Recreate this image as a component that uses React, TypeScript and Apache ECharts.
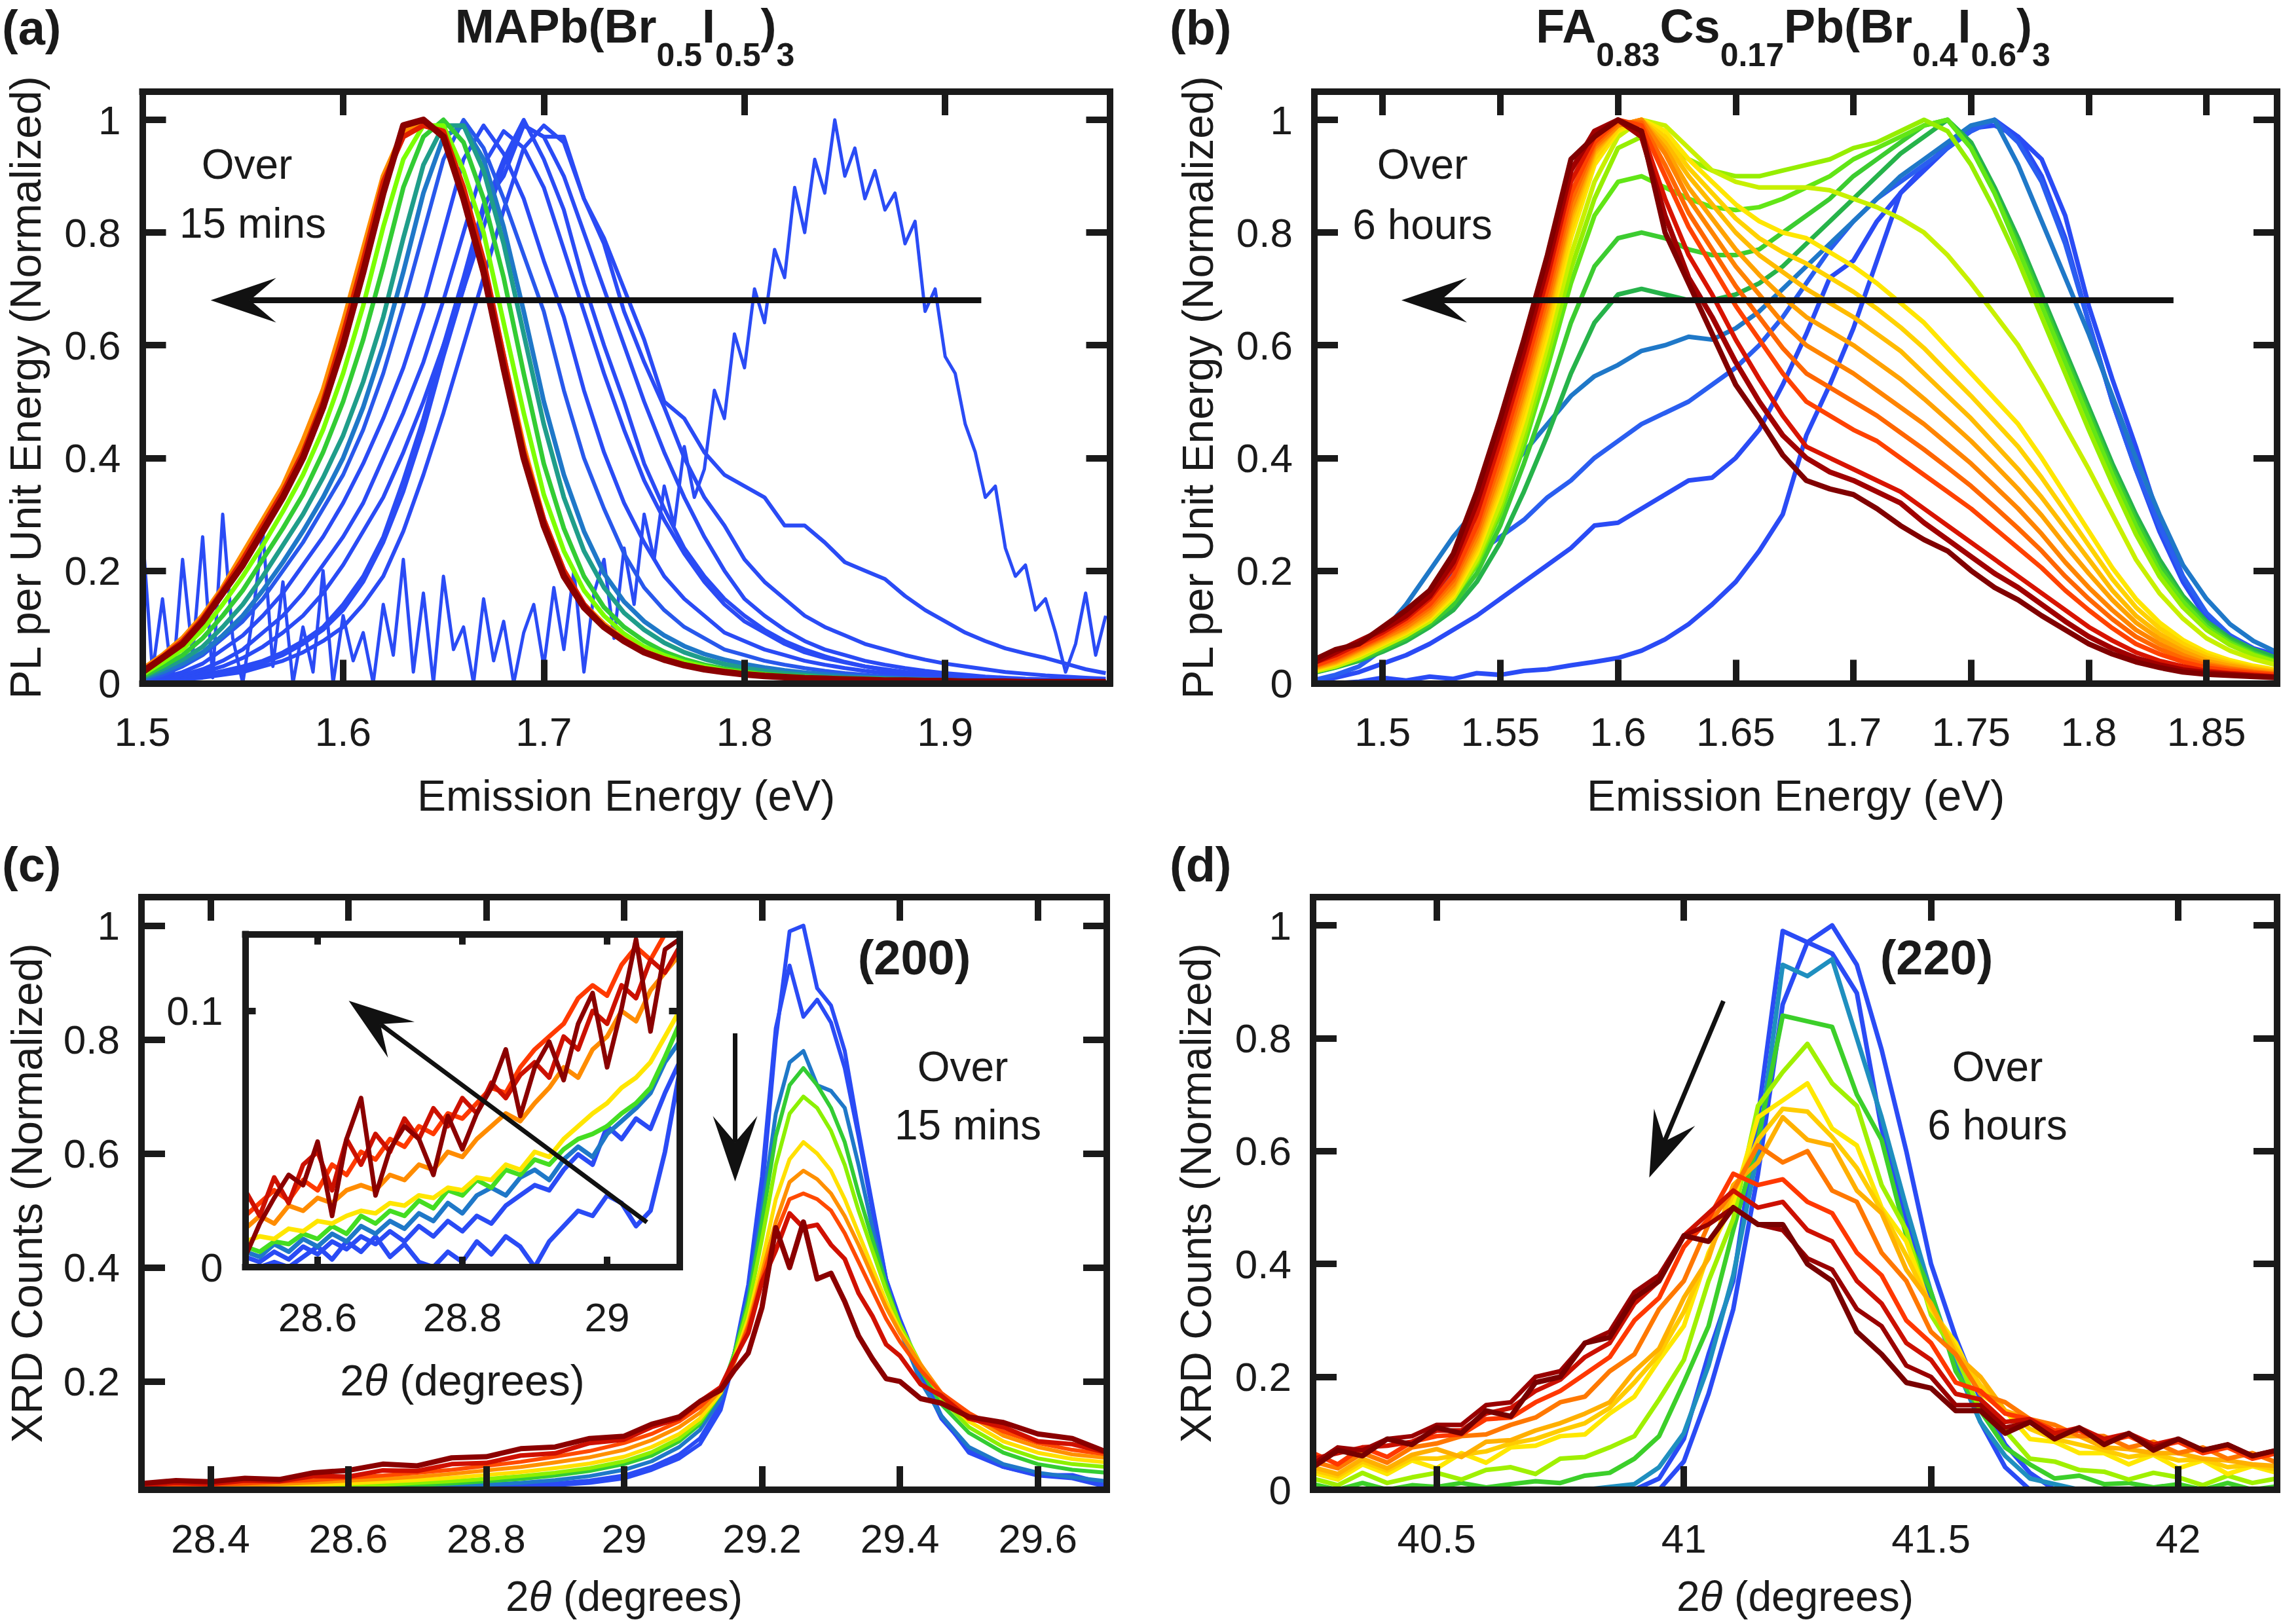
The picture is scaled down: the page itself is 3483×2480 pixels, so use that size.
import React, { useEffect, useRef } from "react";
import * as echarts from "echarts";

const FONT = "'Liberation Sans', Arial, Helvetica, sans-serif";
const INK = "#1a1a1a";

// ---------------- Panel (a): MAPb(Br0.5I0.5)3 PL ----------------
const xA = [1.50,1.51,1.52,1.53,1.54,1.55,1.56,1.57,1.58,1.59,1.60,1.61,1.62,1.63,1.64,1.65,1.66,1.67,1.68,1.69,1.70,1.71,1.72,1.73,1.74,1.75,1.76,1.77,1.78,1.79,1.80,1.81,1.82,1.83,1.84,1.85,1.86,1.87,1.88,1.89,1.90,1.91,1.92,1.93,1.94,1.95,1.96,1.97,1.98];
const xNoise = [1.500,1.505,1.510,1.515,1.520,1.525,1.530,1.535,1.540,1.545,1.550,1.555,1.560,1.565,1.570,1.575,1.580,1.585,1.590,1.595,1.600,1.605,1.610,1.615,1.620,1.625,1.630,1.635,1.640,1.645,1.650,1.655,1.660,1.665,1.670,1.675,1.680,1.685,1.690,1.695,1.700,1.705,1.710,1.715,1.720,1.725,1.730,1.735,1.740,1.745,1.750,1.755,1.760,1.765,1.770,1.775,1.780,1.785,1.790,1.795,1.800,1.805,1.810,1.815,1.820,1.825,1.830,1.835,1.840,1.845,1.850,1.855,1.860,1.865,1.870,1.875,1.880,1.885,1.890,1.895,1.900,1.905,1.910,1.915,1.920,1.925,1.930,1.935,1.940,1.945,1.950,1.955,1.960,1.965,1.970,1.975,1.980];
const aNoisy = [0.27,0.02,0.15,0.00,0.22,0.05,0.26,0.01,0.30,0.08,0.00,0.12,0.27,0.03,0.18,0.00,0.10,0.02,0.20,0.00,0.12,0.04,0.09,0.00,0.14,0.05,0.22,0.02,0.16,0.00,0.19,0.06,0.10,0.00,0.15,0.04,0.11,0.00,0.09,0.14,0.03,0.17,0.06,0.20,0.02,0.16,0.22,0.08,0.24,0.14,0.30,0.22,0.35,0.28,0.42,0.33,0.38,0.52,0.47,0.62,0.56,0.70,0.64,0.77,0.72,0.88,0.80,0.93,0.87,1.00,0.90,0.95,0.86,0.91,0.84,0.87,0.78,0.82,0.66,0.70,0.58,0.55,0.46,0.41,0.33,0.35,0.24,0.19,0.21,0.13,0.15,0.09,0.02,0.07,0.16,0.05,0.12];
const aB1 = [0.003,0.006,0.01,0.015,0.022,0.03,0.04,0.055,0.075,0.1,0.14,0.19,0.26,0.36,0.47,0.6,0.72,0.85,0.9,0.99,0.97,0.97,0.86,0.79,0.7,0.61,0.5,0.47,0.41,0.37,0.35,0.33,0.28,0.28,0.25,0.215,0.2,0.185,0.155,0.13,0.11,0.09,0.075,0.062,0.053,0.045,0.035,0.025,0.018];
const aB3 = [0.002,0.004,0.007,0.01,0.015,0.02,0.03,0.04,0.055,0.075,0.1,0.14,0.19,0.27,0.37,0.48,0.6,0.72,0.84,0.95,0.99,0.96,0.86,0.78,0.66,0.57,0.49,0.4,0.33,0.28,0.22,0.18,0.15,0.12,0.1,0.085,0.07,0.06,0.05,0.042,0.035,0.03,0.025,0.02,0.017,0.014,0.012,0.01,0.008];
const aB2 = [0.002,0.004,0.008,0.012,0.018,0.026,0.036,0.05,0.07,0.095,0.13,0.18,0.25,0.34,0.45,0.58,0.7,0.84,0.93,1.0,0.93,0.84,0.71,0.6,0.5,0.39,0.31,0.24,0.19,0.15,0.12,0.095,0.075,0.06,0.048,0.038,0.03,0.025,0.02,0.016,0.013,0.011,0.009,0.008,0.006,0.005,0.004,0.004,0.003];
const aB4 = [0.003,0.006,0.012,0.02,0.03,0.045,0.065,0.09,0.12,0.16,0.21,0.27,0.33,0.41,0.5,0.6,0.7,0.81,0.92,0.99,0.97,0.9,0.8,0.7,0.6,0.5,0.41,0.33,0.26,0.2,0.15,0.12,0.095,0.075,0.06,0.05,0.04,0.033,0.027,0.022,0.018,0.015,0.012,0.01,0.008,0.007,0.006,0.005,0.004];
const aB5 = [0.003,0.008,0.015,0.025,0.04,0.06,0.09,0.12,0.16,0.21,0.26,0.32,0.4,0.48,0.57,0.68,0.8,0.92,0.98,0.95,0.88,0.77,0.66,0.55,0.45,0.36,0.29,0.23,0.18,0.14,0.11,0.09,0.07,0.055,0.045,0.037,0.03,0.024,0.02,0.016,0.013,0.011,0.009,0.008,0.006,0.005,0.005,0.004,0.003];
const aB6 = [0.004,0.01,0.02,0.035,0.06,0.085,0.12,0.16,0.21,0.26,0.32,0.39,0.47,0.56,0.67,0.8,0.93,0.99,0.94,0.86,0.75,0.65,0.52,0.41,0.32,0.25,0.19,0.15,0.12,0.09,0.075,0.06,0.05,0.04,0.033,0.027,0.022,0.018,0.015,0.012,0.01,0.008,0.007,0.006,0.005,0.004,0.004,0.003,0.003];
const aB7 = [0.005,0.015,0.03,0.05,0.08,0.11,0.15,0.2,0.25,0.31,0.37,0.45,0.55,0.67,0.8,0.93,1.0,0.95,0.86,0.76,0.66,0.52,0.4,0.31,0.23,0.17,0.13,0.1,0.08,0.06,0.05,0.04,0.033,0.027,0.022,0.018,0.015,0.012,0.01,0.008,0.007,0.006,0.005,0.004,0.004,0.003,0.003,0.002,0.002];
const aSB = [0.008,0.02,0.035,0.055,0.085,0.12,0.165,0.215,0.27,0.33,0.4,0.49,0.6,0.73,0.87,0.97,0.99,0.93,0.81,0.66,0.5,0.37,0.27,0.195,0.145,0.11,0.085,0.066,0.052,0.042,0.034,0.028,0.023,0.019,0.016,0.013,0.011,0.009,0.008,0.007,0.006,0.005,0.004,0.004,0.003,0.003,0.003,0.002,0.002];
const aT = [0.01,0.025,0.042,0.065,0.1,0.14,0.19,0.245,0.3,0.365,0.44,0.535,0.65,0.79,0.92,0.99,0.99,0.91,0.78,0.62,0.46,0.33,0.235,0.17,0.125,0.095,0.072,0.055,0.043,0.034,0.027,0.022,0.018,0.015,0.012,0.01,0.009,0.008,0.007,0.006,0.005,0.004,0.004,0.003,0.003,0.003,0.002,0.002,0.002];
const aG = [0.012,0.03,0.05,0.08,0.12,0.165,0.22,0.275,0.335,0.41,0.5,0.61,0.74,0.88,0.97,1.0,0.96,0.86,0.72,0.55,0.39,0.275,0.19,0.135,0.1,0.075,0.056,0.043,0.033,0.026,0.021,0.017,0.014,0.012,0.01,0.009,0.008,0.007,0.006,0.005,0.005,0.004,0.004,0.003,0.003,0.003,0.003,0.002,0.002];
const aL = [0.015,0.037,0.06,0.095,0.14,0.19,0.245,0.305,0.37,0.45,0.55,0.67,0.81,0.93,0.99,0.99,0.91,0.8,0.64,0.48,0.335,0.235,0.165,0.12,0.088,0.065,0.05,0.038,0.03,0.023,0.019,0.015,0.012,0.01,0.009,0.008,0.007,0.006,0.005,0.005,0.004,0.004,0.003,0.003,0.003,0.002,0.002,0.002,0.002];
const aO = [0.025,0.05,0.08,0.12,0.17,0.23,0.29,0.35,0.43,0.52,0.64,0.77,0.9,0.98,1.0,0.97,0.87,0.74,0.58,0.42,0.29,0.2,0.14,0.105,0.078,0.057,0.044,0.033,0.026,0.021,0.017,0.014,0.011,0.009,0.008,0.007,0.006,0.005,0.005,0.004,0.004,0.003,0.003,0.003,0.002,0.002,0.002,0.002,0.002];
const aR = [0.022,0.047,0.075,0.115,0.165,0.22,0.28,0.34,0.41,0.5,0.62,0.75,0.89,0.97,0.99,0.98,0.88,0.75,0.58,0.41,0.29,0.2,0.14,0.1,0.077,0.056,0.043,0.033,0.025,0.02,0.016,0.013,0.011,0.009,0.008,0.007,0.006,0.005,0.005,0.004,0.004,0.003,0.003,0.003,0.002,0.002,0.002,0.002,0.002];
const aD = [0.02,0.045,0.07,0.11,0.16,0.21,0.27,0.33,0.4,0.49,0.6,0.73,0.87,0.99,1.0,0.97,0.86,0.73,0.56,0.4,0.28,0.19,0.135,0.1,0.075,0.055,0.042,0.032,0.025,0.02,0.016,0.013,0.011,0.009,0.008,0.007,0.006,0.005,0.005,0.004,0.004,0.003,0.003,0.003,0.002,0.002,0.002,0.002,0.002];

// ---------------- Panel (b): FA0.83Cs0.17Pb(Br0.4I0.6)3 PL ----------------
const xB = [1.47,1.48,1.49,1.50,1.51,1.52,1.53,1.54,1.55,1.56,1.57,1.58,1.59,1.60,1.61,1.62,1.63,1.64,1.65,1.66,1.67,1.68,1.69,1.70,1.71,1.72,1.73,1.74,1.75,1.76,1.77,1.78,1.79,1.80,1.81,1.82,1.83,1.84,1.85,1.86,1.87,1.88];
const bB0 = [0,0,0.003,0.01,0.005,0.012,0.008,0.018,0.015,0.022,0.025,0.032,0.038,0.045,0.058,0.078,0.105,0.14,0.18,0.235,0.3,0.44,0.53,0.63,0.75,0.87,0.915,0.955,0.985,0.99,0.97,0.93,0.83,0.67,0.54,0.42,0.29,0.19,0.12,0.085,0.062,0.05];
const bB1 = [0,0.01,0.02,0.035,0.05,0.07,0.095,0.12,0.15,0.18,0.21,0.24,0.28,0.285,0.31,0.335,0.36,0.365,0.4,0.45,0.53,0.62,0.72,0.75,0.82,0.87,0.91,0.95,0.98,1.0,0.97,0.9,0.79,0.64,0.5,0.38,0.27,0.18,0.115,0.08,0.06,0.045];
const bB2 = [0.005,0.015,0.03,0.06,0.1,0.15,0.2,0.23,0.26,0.29,0.33,0.36,0.4,0.43,0.46,0.48,0.5,0.53,0.56,0.6,0.65,0.71,0.77,0.82,0.86,0.89,0.92,0.95,0.98,1.0,0.96,0.89,0.78,0.64,0.5,0.38,0.28,0.19,0.125,0.085,0.06,0.045];
const bB3 = [0.02,0.035,0.06,0.09,0.14,0.2,0.26,0.31,0.36,0.41,0.46,0.51,0.545,0.565,0.59,0.6,0.615,0.61,0.63,0.66,0.7,0.74,0.78,0.82,0.86,0.9,0.93,0.96,0.99,1.0,0.92,0.82,0.72,0.62,0.51,0.4,0.3,0.21,0.15,0.105,0.075,0.055];
const bG1 = [0.018,0.028,0.04,0.056,0.075,0.1,0.13,0.18,0.25,0.34,0.44,0.55,0.64,0.69,0.7,0.69,0.68,0.68,0.69,0.71,0.74,0.78,0.82,0.86,0.9,0.94,0.97,1.0,0.96,0.88,0.79,0.69,0.59,0.49,0.39,0.3,0.22,0.155,0.11,0.08,0.06,0.045];
const bG2 = [0.02,0.03,0.042,0.06,0.08,0.105,0.14,0.195,0.28,0.39,0.51,0.64,0.74,0.79,0.8,0.79,0.77,0.76,0.76,0.77,0.8,0.83,0.86,0.9,0.93,0.96,0.99,1.0,0.95,0.87,0.78,0.68,0.58,0.48,0.38,0.29,0.21,0.15,0.105,0.075,0.055,0.04];
const bG3 = [0.02,0.03,0.045,0.065,0.085,0.11,0.15,0.21,0.3,0.42,0.56,0.71,0.83,0.89,0.9,0.88,0.86,0.845,0.84,0.845,0.86,0.88,0.9,0.93,0.95,0.97,0.99,1.0,0.95,0.87,0.77,0.67,0.57,0.47,0.37,0.28,0.2,0.145,0.1,0.072,0.052,0.038];
const bGY = [0.02,0.03,0.045,0.065,0.085,0.11,0.15,0.215,0.31,0.435,0.58,0.735,0.86,0.95,0.97,0.96,0.93,0.91,0.9,0.9,0.91,0.92,0.93,0.95,0.96,0.98,1.0,0.98,0.92,0.84,0.75,0.65,0.55,0.45,0.355,0.265,0.19,0.135,0.095,0.068,0.05,0.037];
const bYG = [0.02,0.03,0.045,0.065,0.085,0.11,0.15,0.22,0.32,0.45,0.6,0.76,0.89,0.97,1.0,0.99,0.95,0.91,0.89,0.88,0.88,0.88,0.875,0.86,0.845,0.825,0.8,0.76,0.71,0.655,0.6,0.53,0.455,0.38,0.3,0.22,0.16,0.115,0.08,0.058,0.043,0.032];
const bY = [0.022,0.034,0.05,0.07,0.09,0.115,0.155,0.23,0.34,0.47,0.62,0.79,0.92,0.98,1.0,0.98,0.93,0.89,0.85,0.82,0.8,0.79,0.765,0.74,0.71,0.675,0.64,0.595,0.55,0.505,0.46,0.4,0.335,0.27,0.205,0.15,0.108,0.077,0.055,0.041,0.031,0.024];
const bYY = [0.024,0.035,0.052,0.072,0.092,0.118,0.16,0.238,0.35,0.485,0.635,0.805,0.93,0.985,1.0,0.97,0.915,0.87,0.825,0.79,0.765,0.745,0.72,0.695,0.665,0.632,0.595,0.552,0.51,0.465,0.42,0.365,0.305,0.245,0.185,0.135,0.098,0.07,0.05,0.037,0.028,0.022];
const bYO = [0.025,0.037,0.055,0.075,0.095,0.12,0.165,0.245,0.36,0.5,0.65,0.82,0.94,0.99,1.0,0.96,0.9,0.85,0.8,0.76,0.73,0.7,0.675,0.65,0.62,0.59,0.55,0.51,0.47,0.425,0.38,0.33,0.275,0.22,0.165,0.12,0.088,0.063,0.045,0.034,0.026,0.02];
const bOY = [0.026,0.038,0.058,0.078,0.098,0.125,0.17,0.252,0.37,0.51,0.66,0.83,0.945,0.99,1.0,0.95,0.88,0.825,0.77,0.725,0.685,0.65,0.625,0.6,0.57,0.54,0.505,0.468,0.43,0.388,0.345,0.298,0.245,0.195,0.148,0.108,0.079,0.057,0.04,0.031,0.024,0.019];
const bO = [0.028,0.04,0.06,0.08,0.1,0.13,0.175,0.26,0.38,0.52,0.67,0.84,0.95,0.99,1.0,0.94,0.86,0.8,0.74,0.69,0.64,0.6,0.575,0.55,0.52,0.49,0.46,0.425,0.39,0.35,0.31,0.265,0.215,0.17,0.13,0.095,0.07,0.05,0.035,0.027,0.021,0.017];
const bOR = [0.029,0.043,0.062,0.083,0.105,0.135,0.183,0.27,0.395,0.535,0.685,0.855,0.955,0.995,0.995,0.92,0.835,0.77,0.705,0.65,0.595,0.55,0.525,0.5,0.475,0.445,0.415,0.383,0.35,0.313,0.275,0.235,0.19,0.15,0.114,0.083,0.061,0.044,0.032,0.025,0.02,0.016];
const bRO = [0.03,0.045,0.065,0.085,0.11,0.14,0.19,0.28,0.41,0.55,0.7,0.87,0.96,1.0,0.99,0.9,0.81,0.74,0.67,0.61,0.55,0.5,0.475,0.45,0.43,0.4,0.37,0.34,0.31,0.275,0.24,0.205,0.165,0.13,0.098,0.07,0.052,0.038,0.028,0.022,0.018,0.015];
const bR = [0.035,0.05,0.07,0.09,0.115,0.15,0.205,0.3,0.43,0.57,0.72,0.89,0.97,1.0,0.98,0.86,0.76,0.69,0.61,0.54,0.475,0.42,0.4,0.38,0.36,0.34,0.31,0.28,0.25,0.22,0.19,0.16,0.13,0.1,0.076,0.055,0.04,0.03,0.022,0.018,0.015,0.012];
const bDR1 = [0.035,0.055,0.075,0.095,0.12,0.155,0.215,0.32,0.45,0.59,0.74,0.91,0.98,1.0,0.97,0.83,0.72,0.65,0.57,0.5,0.44,0.4,0.375,0.36,0.34,0.32,0.285,0.255,0.225,0.195,0.17,0.14,0.11,0.083,0.062,0.045,0.033,0.024,0.019,0.016,0.013,0.011];
const bDR2 = [0.04,0.06,0.07,0.1,0.13,0.165,0.23,0.34,0.47,0.61,0.76,0.93,0.97,1.0,0.98,0.8,0.71,0.62,0.53,0.47,0.405,0.36,0.345,0.335,0.31,0.28,0.255,0.235,0.2,0.17,0.148,0.12,0.095,0.07,0.052,0.038,0.028,0.02,0.016,0.014,0.012,0.01];

// ---------------- Panel (c): (200) XRD ----------------
const xC = [28.30,28.35,28.40,28.45,28.50,28.55,28.60,28.65,28.70,28.75,28.80,28.85,28.90,28.95,29.00,29.04,29.08,29.11,29.14,29.16,29.18,29.20,29.22,29.24,29.26,29.28,29.30,29.32,29.34,29.36,29.38,29.40,29.43,29.46,29.50,29.55,29.60,29.65,29.70];
const cBlueA = [0.004,0.004,0.005,0.005,0.006,0.006,0.007,0.007,0.008,0.01,0.012,0.014,0.018,0.022,0.03,0.045,0.065,0.09,0.15,0.24,0.35,0.53,0.8,0.99,1.0,0.89,0.86,0.78,0.64,0.51,0.38,0.31,0.22,0.14,0.075,0.05,0.036,0.036,0.02];
const cBlueB = [0.005,0.005,0.006,0.006,0.007,0.007,0.008,0.009,0.01,0.012,0.014,0.017,0.021,0.026,0.035,0.05,0.072,0.1,0.16,0.25,0.37,0.56,0.82,0.93,0.84,0.87,0.83,0.75,0.63,0.5,0.38,0.3,0.21,0.135,0.08,0.05,0.035,0.03,0.015];
const cSteel = [0.006,0.006,0.007,0.008,0.009,0.01,0.011,0.012,0.014,0.016,0.019,0.022,0.027,0.034,0.045,0.06,0.085,0.115,0.17,0.25,0.35,0.5,0.67,0.76,0.78,0.72,0.71,0.68,0.58,0.47,0.37,0.29,0.2,0.14,0.085,0.055,0.04,0.032,0.025];
const cGreen = [0.008,0.008,0.009,0.01,0.011,0.012,0.014,0.016,0.018,0.021,0.025,0.029,0.035,0.043,0.055,0.07,0.095,0.125,0.18,0.25,0.34,0.48,0.63,0.72,0.75,0.72,0.68,0.62,0.53,0.45,0.37,0.3,0.22,0.16,0.11,0.075,0.055,0.045,0.04];
const cLime = [0.01,0.01,0.011,0.012,0.013,0.015,0.017,0.019,0.022,0.025,0.029,0.034,0.04,0.048,0.06,0.076,0.1,0.13,0.18,0.245,0.33,0.45,0.58,0.67,0.7,0.68,0.64,0.58,0.5,0.43,0.36,0.3,0.23,0.17,0.12,0.085,0.065,0.055,0.05];
const cYellow = [0.012,0.013,0.014,0.015,0.017,0.019,0.021,0.024,0.027,0.031,0.036,0.041,0.048,0.056,0.068,0.085,0.108,0.135,0.18,0.24,0.31,0.41,0.52,0.59,0.62,0.6,0.57,0.52,0.46,0.4,0.34,0.29,0.23,0.175,0.13,0.095,0.075,0.064,0.058];
const cOrange = [0.014,0.015,0.017,0.018,0.02,0.023,0.026,0.029,0.033,0.038,0.044,0.05,0.058,0.067,0.08,0.097,0.12,0.145,0.185,0.235,0.3,0.39,0.48,0.55,0.57,0.555,0.53,0.49,0.44,0.385,0.33,0.285,0.23,0.18,0.14,0.105,0.085,0.072,0.066];
const cRedOr = [0.016,0.017,0.019,0.021,0.024,0.027,0.031,0.035,0.04,0.045,0.052,0.059,0.068,0.078,0.092,0.108,0.13,0.155,0.19,0.235,0.295,0.38,0.46,0.52,0.53,0.52,0.5,0.46,0.41,0.36,0.31,0.27,0.22,0.18,0.145,0.112,0.092,0.08,0.072];
const cRed = [0.018,0.022,0.02,0.026,0.025,0.034,0.033,0.044,0.043,0.055,0.057,0.07,0.074,0.092,0.098,0.12,0.135,0.165,0.19,0.24,0.285,0.375,0.43,0.495,0.47,0.475,0.44,0.415,0.355,0.315,0.265,0.245,0.195,0.175,0.135,0.12,0.095,0.09,0.075];
const cDark = [0.021,0.026,0.024,0.03,0.028,0.04,0.044,0.055,0.052,0.066,0.068,0.082,0.085,0.1,0.104,0.125,0.138,0.165,0.185,0.22,0.25,0.33,0.47,0.4,0.48,0.38,0.39,0.34,0.28,0.24,0.205,0.2,0.17,0.162,0.138,0.128,0.108,0.1,0.076];

// ---------------- Inset of (c): low-angle shoulder ----------------
const xI = [28.50,28.52,28.54,28.56,28.58,28.60,28.62,28.64,28.66,28.68,28.70,28.72,28.74,28.76,28.78,28.80,28.82,28.84,28.86,28.88,28.90,28.92,28.94,28.96,28.98,29.00,29.02,29.04,29.06,29.08,29.10];
const iBlue2 = [0,0,0.002,0,0.004,0.008,0.003,0.01,0.006,0.012,0.004,0.009,0.002,0,0.006,0.002,0.01,0.005,0.012,0.008,0,0.01,0.016,0.022,0.02,0.028,0.025,0.016,0.022,0.045,0.076];
const iBlue1 = [0.004,0.002,0.006,0.003,0.008,0.005,0.01,0.007,0.012,0.009,0.014,0.01,0.016,0.012,0.018,0.014,0.02,0.017,0.024,0.028,0.032,0.03,0.038,0.044,0.04,0.055,0.05,0.058,0.054,0.068,0.08];
const iSteel = [0.006,0.004,0.009,0.006,0.011,0.008,0.013,0.01,0.016,0.013,0.018,0.015,0.021,0.018,0.025,0.021,0.028,0.031,0.028,0.035,0.038,0.034,0.042,0.047,0.043,0.052,0.057,0.062,0.068,0.08,0.088];
const iGreen = [0.008,0.006,0.01,0.009,0.013,0.011,0.016,0.013,0.02,0.017,0.022,0.02,0.026,0.023,0.03,0.028,0.034,0.031,0.038,0.036,0.042,0.04,0.046,0.05,0.052,0.055,0.06,0.064,0.07,0.082,0.095];
const iYellow = [0.01,0.012,0.011,0.015,0.014,0.018,0.017,0.02,0.022,0.021,0.025,0.024,0.028,0.027,0.031,0.03,0.035,0.034,0.04,0.038,0.045,0.043,0.05,0.055,0.06,0.064,0.07,0.074,0.08,0.09,0.1];
const iOrange = [0.015,0.02,0.017,0.024,0.022,0.027,0.025,0.03,0.032,0.03,0.036,0.034,0.04,0.038,0.045,0.043,0.05,0.055,0.06,0.057,0.064,0.07,0.078,0.074,0.085,0.09,0.1,0.096,0.108,0.115,0.122];
const iRedOr = [0.02,0.025,0.03,0.026,0.034,0.03,0.04,0.036,0.045,0.042,0.05,0.047,0.055,0.052,0.06,0.058,0.064,0.07,0.068,0.078,0.085,0.09,0.095,0.105,0.11,0.106,0.118,0.125,0.12,0.13,0.13];
const iRed = [0.03,0.02,0.035,0.025,0.04,0.045,0.03,0.05,0.04,0.052,0.045,0.058,0.05,0.062,0.055,0.066,0.06,0.072,0.066,0.075,0.08,0.074,0.09,0.085,0.1,0.095,0.11,0.105,0.12,0.115,0.125];
const iDark = [0.004,0.017,0.027,0.036,0.032,0.049,0.02,0.05,0.066,0.028,0.046,0.055,0.05,0.036,0.059,0.046,0.06,0.07,0.085,0.059,0.078,0.088,0.073,0.095,0.107,0.078,0.101,0.128,0.092,0.124,0.128];

// ---------------- Panel (d): (220) XRD ----------------
const xD = [40.25,40.30,40.35,40.40,40.45,40.50,40.55,40.60,40.65,40.70,40.75,40.80,40.85,40.90,40.95,41.00,41.05,41.10,41.15,41.20,41.25,41.30,41.35,41.40,41.45,41.50,41.55,41.60,41.65,41.70,41.75,41.80,41.85,41.90,41.95,42.00,42.05,42.10,42.15,42.20];
const dBlueA = [0,0,0,0,0,0,0,0,0,0,0,0,0,0,0.02,0.09,0.24,0.37,0.66,0.99,0.97,0.95,0.88,0.64,0.48,0.33,0.22,0.12,0.04,0,0,0,0,0,0,0,0,0,0,0];
const dBlueB = [0,0,0,0,0,0,0,0,0,0,0,0,0,0,0,0.05,0.17,0.32,0.56,0.86,0.97,1.0,0.93,0.78,0.6,0.4,0.27,0.16,0.08,0.03,0,0,0,0,0,0,0,0,0,0];
const dTeal = [0,0,0,0,0,0,0,0,0,0,0,0,0.005,0.01,0.04,0.1,0.22,0.38,0.6,0.93,0.91,0.94,0.8,0.66,0.5,0.35,0.22,0.12,0.06,0.02,0.01,0,0,0,0,0,0,0,0,0];
const dGreen = [0.01,0,0.012,0,0.008,0.005,0.012,0.004,0.01,0.015,0.012,0.025,0.03,0.055,0.095,0.19,0.29,0.46,0.62,0.84,0.83,0.82,0.7,0.62,0.45,0.35,0.21,0.14,0.075,0.045,0.02,0.025,0.01,0.012,0.004,0.01,0,0.012,0,0.006];
const dLime = [0.02,0.008,0.03,0.012,0.022,0.03,0.018,0.035,0.04,0.028,0.055,0.058,0.075,0.095,0.16,0.23,0.37,0.48,0.68,0.74,0.79,0.72,0.68,0.54,0.46,0.31,0.24,0.14,0.105,0.055,0.05,0.035,0.032,0.018,0.03,0.022,0.008,0.025,0.012,0.02];
const dYellow = [0.03,0.018,0.045,0.028,0.052,0.038,0.065,0.048,0.075,0.078,0.095,0.098,0.135,0.165,0.23,0.29,0.42,0.51,0.66,0.69,0.72,0.64,0.61,0.5,0.44,0.32,0.26,0.17,0.14,0.09,0.085,0.065,0.065,0.045,0.062,0.038,0.052,0.028,0.042,0.03];
const dYelMid = [0.035,0.024,0.05,0.034,0.056,0.055,0.062,0.068,0.082,0.09,0.105,0.118,0.145,0.19,0.24,0.315,0.415,0.525,0.62,0.675,0.67,0.625,0.57,0.495,0.415,0.325,0.25,0.185,0.14,0.108,0.09,0.08,0.07,0.058,0.064,0.052,0.054,0.04,0.044,0.036];
const dYelOr = [0.04,0.028,0.055,0.038,0.062,0.072,0.058,0.085,0.088,0.105,0.118,0.135,0.155,0.21,0.25,0.34,0.41,0.54,0.58,0.66,0.62,0.61,0.53,0.49,0.39,0.33,0.24,0.2,0.14,0.125,0.095,0.095,0.075,0.072,0.065,0.065,0.055,0.052,0.045,0.042];
const dOrange = [0.05,0.038,0.065,0.048,0.075,0.082,0.095,0.098,0.115,0.128,0.155,0.165,0.21,0.24,0.32,0.37,0.47,0.53,0.61,0.58,0.6,0.53,0.51,0.42,0.37,0.28,0.24,0.17,0.155,0.125,0.115,0.095,0.095,0.075,0.085,0.065,0.075,0.055,0.065,0.048];
const dRedOr = [0.065,0.045,0.075,0.058,0.085,0.095,0.098,0.125,0.128,0.155,0.175,0.205,0.235,0.3,0.34,0.43,0.48,0.56,0.54,0.55,0.51,0.49,0.42,0.38,0.3,0.26,0.19,0.175,0.135,0.125,0.105,0.105,0.085,0.095,0.075,0.085,0.065,0.075,0.055,0.065];
const dRed = [0.055,0.065,0.075,0.078,0.085,0.105,0.105,0.135,0.145,0.175,0.195,0.235,0.26,0.33,0.37,0.45,0.49,0.53,0.5,0.51,0.46,0.44,0.37,0.33,0.26,0.23,0.17,0.16,0.12,0.125,0.1,0.11,0.09,0.1,0.08,0.09,0.07,0.08,0.06,0.07];
const dDark1 = [0.045,0.075,0.07,0.09,0.095,0.115,0.115,0.15,0.155,0.2,0.21,0.26,0.28,0.35,0.38,0.45,0.47,0.5,0.47,0.46,0.41,0.39,0.32,0.29,0.22,0.2,0.15,0.15,0.11,0.12,0.09,0.11,0.08,0.1,0.075,0.09,0.07,0.08,0.06,0.07];
const dDark2 = [0.04,0.07,0.06,0.09,0.08,0.11,0.1,0.14,0.13,0.19,0.2,0.26,0.27,0.34,0.37,0.45,0.44,0.5,0.47,0.47,0.4,0.37,0.28,0.24,0.19,0.18,0.14,0.14,0.1,0.12,0.09,0.11,0.08,0.1,0.07,0.09,0.07,0.08,0.06,0.07];

// ---------------- Tick values ----------------
const ticksAx = [1.5, 1.6, 1.7, 1.8, 1.9];
const ticksBx = [1.5, 1.55, 1.6, 1.65, 1.7, 1.75, 1.8, 1.85];
const ticksCx = [28.4, 28.6, 28.8, 29, 29.2, 29.4, 29.6];
const ticksDx = [40.5, 41, 41.5, 42];
const ticksIx = [28.6, 28.8, 29];
const ticksY = [0, 0.2, 0.4, 0.6, 0.8, 1];
const ticksCy = [0.2, 0.4, 0.6, 0.8, 1];
const ticksIy = [0, 0.1];

// Arrow annotations in data coordinates: [panelIndex, tailX, tailY, tipX, tipY]
const arrowsData = [
  [0, 1.918, 0.68, 1.534, 0.68],
  [1, 1.836, 0.68, 1.508, 0.68],
  [2, 29.161, 0.811, 29.161, 0.551],
  [3, 41.08, 0.866, 40.93, 0.553],
  [4, 29.055, 0.0175, 28.643, 0.104],
];

// ---------------- Colours ----------------
const BLUE = "#2a4bf5";
const STEEL = "#1f78c8";

const PANELS = [
  { grid: { left: 217.5, top: 140, width: 1477, height: 903.5 }, x: [1.5, 1.982], y: [0, 1.05], xt: ticksAx, yt: ticksY, tl: 36, xm: 43, ym: 33 },
  { grid: { left: 2007, top: 140, width: 1470, height: 903.5 }, x: [1.471, 1.88], y: [0, 1.05], xt: ticksBx, yt: ticksY, tl: 36, xm: 43, ym: 33 },
  { grid: { left: 216, top: 1370, width: 1474, height: 905 }, x: [28.3, 29.7], y: [0.01, 1.05], xt: ticksCx, yt: ticksCy, tl: 36, xm: 43, ym: 33 },
  { grid: { left: 2005, top: 1370, width: 1472, height: 905 }, x: [40.25, 42.2], y: [0, 1.05], xt: ticksDx, yt: ticksY, tl: 36, xm: 43, ym: 33 },
  { grid: { left: 374.5, top: 1426.5, width: 663, height: 508.5 }, x: [28.5, 29.1], y: [0, 0.13], xt: ticksIx, yt: ticksIy, tl: 16, xm: 45, ym: 34 },
];

const SERIES_SPEC: any[] = [
  // panel a
  [0, xNoise, aNoisy, BLUE, 5],
  [0, xA, aB1, BLUE, 6], [0, xA, aB3, BLUE, 6], [0, xA, aB2, BLUE, 6], [0, xA, aB4, BLUE, 6],
  [0, xA, aB5, BLUE, 6], [0, xA, aB6, BLUE, 6], [0, xA, aB7, "#2858ec", 6],
  [0, xA, aSB, STEEL, 7], [0, xA, aT, "#1f9d8a", 7], [0, xA, aG, "#33cc33", 7], [0, xA, aL, "#7cff00", 7],
  [0, xA, aO, "#ff8c00", 8], [0, xA, aR, "#e02000", 8], [0, xA, aD, "#8b0000", 10],
  // panel b
  [1, xB, bB0, BLUE, 7], [1, xB, bB1, BLUE, 7], [1, xB, bB2, "#2a5ef0", 7], [1, xB, bB3, STEEL, 7],
  [1, xB, bG1, "#26b34a", 7], [1, xB, bG2, "#3ccc30", 7], [1, xB, bG3, "#62e616", 7], [1, xB, bGY, "#96ee00", 7],
  [1, xB, bYG, "#c8f000", 7], [1, xB, bY, "#ffe600", 7], [1, xB, bYY, "#ffd200", 7], [1, xB, bYO, "#ffbb00", 7],
  [1, xB, bOY, "#ffa200", 7], [1, xB, bO, "#ff8400", 7], [1, xB, bOR, "#ff6600", 7], [1, xB, bRO, "#ff4200", 7],
  [1, xB, bR, "#d81400", 7], [1, xB, bDR1, "#a00000", 8], [1, xB, bDR2, "#800000", 8],
  // panel c
  [2, xC, cBlueA, BLUE, 6], [2, xC, cBlueB, BLUE, 6], [2, xC, cSteel, STEEL, 6], [2, xC, cGreen, "#33cc33", 6],
  [2, xC, cLime, "#8cf000", 6], [2, xC, cYellow, "#ffe000", 6], [2, xC, cOrange, "#ff9000", 6],
  [2, xC, cRedOr, "#ff4a00", 6], [2, xC, cRed, "#d01000", 7], [2, xC, cDark, "#8b0000", 8],
  // panel d
  [3, xD, dBlueA, BLUE, 7], [3, xD, dBlueB, BLUE, 7], [3, xD, dTeal, "#1f8fbf", 7], [3, xD, dGreen, "#3ccf2a", 7],
  [3, xD, dLime, "#a0f000", 7], [3, xD, dYellow, "#ffe800", 7], [3, xD, dYelMid, "#ffcc00", 7], [3, xD, dYelOr, "#ffb000", 7],
  [3, xD, dOrange, "#ff7800", 7], [3, xD, dRedOr, "#ff3800", 7], [3, xD, dRed, "#cc1000", 7], [3, xD, dDark1, "#990000", 7],
  [3, xD, dDark2, "#780000", 8],
  // inset
  [4, xI, iBlue2, BLUE, 7], [4, xI, iBlue1, BLUE, 7], [4, xI, iSteel, STEEL, 7], [4, xI, iGreen, "#44dd22", 7],
  [4, xI, iYellow, "#ffe600", 7], [4, xI, iOrange, "#ff8c00", 7], [4, xI, iRedOr, "#ff3a00", 7],
  [4, xI, iRed, "#cc1100", 7], [4, xI, iDark, "#8b0000", 7],
];

const fmt = (v: number) => String(parseFloat(Number(v).toFixed(3)));

function buildOption() {
  const grid: any[] = [];
  const xAxis: any[] = [];
  const yAxis: any[] = [];
  PANELS.forEach((p, gi) => {
    grid.push({ ...p.grid, containLabel: false, outerBoundsMode: "none", show: false });
    const lineSt = { color: INK, width: 10, cap: "square" };
    const tickSt = { color: INK, width: 10 };
    const labelBase = { fontSize: 62, fontFamily: FONT, color: INK, formatter: fmt };
    ["bottom", "top"].forEach((pos, k) => {
      xAxis.push({
        type: "value", gridIndex: gi, min: p.x[0], max: p.x[1], position: pos, z: 10,
        axisLine: { show: true, onZero: false, lineStyle: lineSt },
        axisTick: { show: true, inside: true, length: p.tl, customValues: p.xt, lineStyle: tickSt },
        axisLabel: { show: k === 0, customValues: p.xt, margin: p.xm, ...labelBase },
        splitLine: { show: false },
      });
    });
    ["left", "right"].forEach((pos, k) => {
      yAxis.push({
        type: "value", gridIndex: gi, min: p.y[0], max: p.y[1], position: pos, z: 10,
        axisLine: { show: true, onZero: false, lineStyle: lineSt },
        axisTick: { show: true, inside: true, length: p.tl, customValues: p.yt, lineStyle: tickSt },
        axisLabel: { show: k === 0, customValues: p.yt, margin: p.ym, ...labelBase },
        splitLine: { show: false },
      });
    });
  });
  const series = SERIES_SPEC.map(([pi, xs, ys, color, w]) => ({
    type: "line",
    xAxisIndex: pi * 2,
    yAxisIndex: pi * 2,
    data: xs.map((v: number, i: number) => [v, ys[i]]),
    symbol: "none",
    showSymbol: false,
    silent: true,
    animation: false,
    clip: true,
    emphasis: { disabled: true },
    lineStyle: { color, width: w, join: "round" },
    z: 2,
  }));
  return {
    animation: false,
    backgroundColor: "#ffffff",
    textStyle: { fontFamily: FONT },
    grid,
    xAxis,
    yAxis,
    series,
  };
}

function txt(text: string, x: number, y: number, size: number, opts: any = {}) {
  return {
    type: "text",
    x, y,
    rotation: opts.rot || 0,
    z: 50,
    silent: true,
    style: {
      text,
      fontSize: size,
      fontFamily: FONT,
      fontWeight: opts.bold ? "bold" : "normal",
      fill: INK,
      align: opts.align || "center",
      verticalAlign: opts.va || "middle",
      rich: opts.rich,
    },
  };
}

function staticTexts() {
  const sub = {
    m: { fontSize: 72, fontWeight: "bold", fontFamily: FONT, fill: INK, lineHeight: 72, verticalAlign: "top" },
    s: { fontSize: 50, fontWeight: "bold", fontFamily: FONT, fill: INK, lineHeight: 50, verticalAlign: "top", padding: [55, 0, 0, 0] },
  };
  const theta = { i: { fontStyle: "italic", fontSize: 66, fontFamily: FONT, fill: INK } };
  const R = Math.PI / 2;
  return [
    txt("{m|MAPb(Br}{s|0.5}{m|I}{s|0.5}{m|)}{s|3}", 954, 4, 72, { va: "top", rich: sub }),
    txt("{m|FA}{s|0.83}{m|Cs}{s|0.17}{m|Pb(Br}{s|0.4}{m|I}{s|0.6}{m|)}{s|3}", 2738, 4, 72, { va: "top", rich: sub }),
    txt("(a)", 3, 42, 74, { bold: true, align: "left" }),
    txt("(b)", 1786, 42, 74, { bold: true, align: "left" }),
    txt("(c)", 3, 1320, 74, { bold: true, align: "left" }),
    txt("(d)", 1786, 1320, 74, { bold: true, align: "left" }),
    txt("PL per Unit Energy (Normalized)", 39, 592, 66, { rot: R }),
    txt("PL per Unit Energy (Normalized)", 1829, 592, 66, { rot: R }),
    txt("XRD Counts (Normalized)", 41, 1822, 66, { rot: R }),
    txt("XRD Counts (Normalized)", 1826, 1822, 66, { rot: R }),
    txt("Emission Energy (eV)", 956, 1215, 66),
    txt("Emission Energy (eV)", 2742, 1215, 66),
    txt("2{i|θ} (degrees)", 953, 2438, 64, { rich: { i: { ...theta.i, fontSize: 64 } } }),
    txt("2{i|θ} (degrees)", 2741, 2438, 64, { rich: { i: { ...theta.i, fontSize: 64 } } }),
    txt("2{i|θ} (degrees)", 706, 2108, 66, { rich: theta }),
    txt("Over", 377, 251, 64),
    txt("15 mins", 386, 341, 64),
    txt("Over", 2172, 251, 64),
    txt("6 hours", 2172, 343, 64),
    txt("(200)", 1396, 1462, 74, { bold: true }),
    txt("Over", 1470, 1629, 64),
    txt("15 mins", 1478, 1718, 64),
    txt("(220)", 2957, 1462, 74, { bold: true }),
    txt("Over", 3050, 1629, 64),
    txt("6 hours", 3050, 1718, 64),
  ];
}

function arrowElements(chart: any) {
  const out: any[] = [];
  const L = 100, W = 68, N = 0.6;
  arrowsData.forEach(([pi, tx, ty, hx, hy]) => {
    const finder = { xAxisIndex: pi * 2, yAxisIndex: pi * 2 };
    const a = chart.convertToPixel(finder, [tx, ty]);
    const b = chart.convertToPixel(finder, [hx, hy]);
    if (!a || !b) return;
    const dx = b[0] - a[0], dy = b[1] - a[1];
    const len = Math.hypot(dx, dy) || 1;
    const ux = dx / len, uy = dy / len;
    const nx = -uy, ny = ux;
    const notch = [b[0] - ux * L * N, b[1] - uy * L * N];
    const w1 = [b[0] - ux * L + nx * W / 2, b[1] - uy * L + ny * W / 2];
    const w2 = [b[0] - ux * L - nx * W / 2, b[1] - uy * L - ny * W / 2];
    out.push({
      type: "line", z: 60, silent: true,
      shape: { x1: a[0], y1: a[1], x2: notch[0], y2: notch[1] },
      style: { stroke: "#111111", lineWidth: pi <= 1 ? 9 : 7 },
    });
    out.push({
      type: "polygon", z: 61, silent: true,
      shape: { points: [b, w1, notch, w2] },
      style: { fill: "#111111" },
    });
  });
  return out;
}

export default function App() {
  const ref = useRef<HTMLDivElement>(null);
  useEffect(() => {
    const el = ref.current as HTMLDivElement;
    const chart = echarts.init(el, null, { renderer: "svg", width: 3483, height: 2480 });
    chart.setOption(buildOption() as any);
    const elements = [...staticTexts(), ...arrowElements(chart)];
    chart.setOption({ graphic: { elements } } as any);
    return () => {
      chart.dispose();
    };
  }, []);
  return (
    <div
      ref={ref}
      style={{ position: "absolute", left: 0, top: 0, width: 3483, height: 2480, background: "#ffffff" }}
    />
  );
}
